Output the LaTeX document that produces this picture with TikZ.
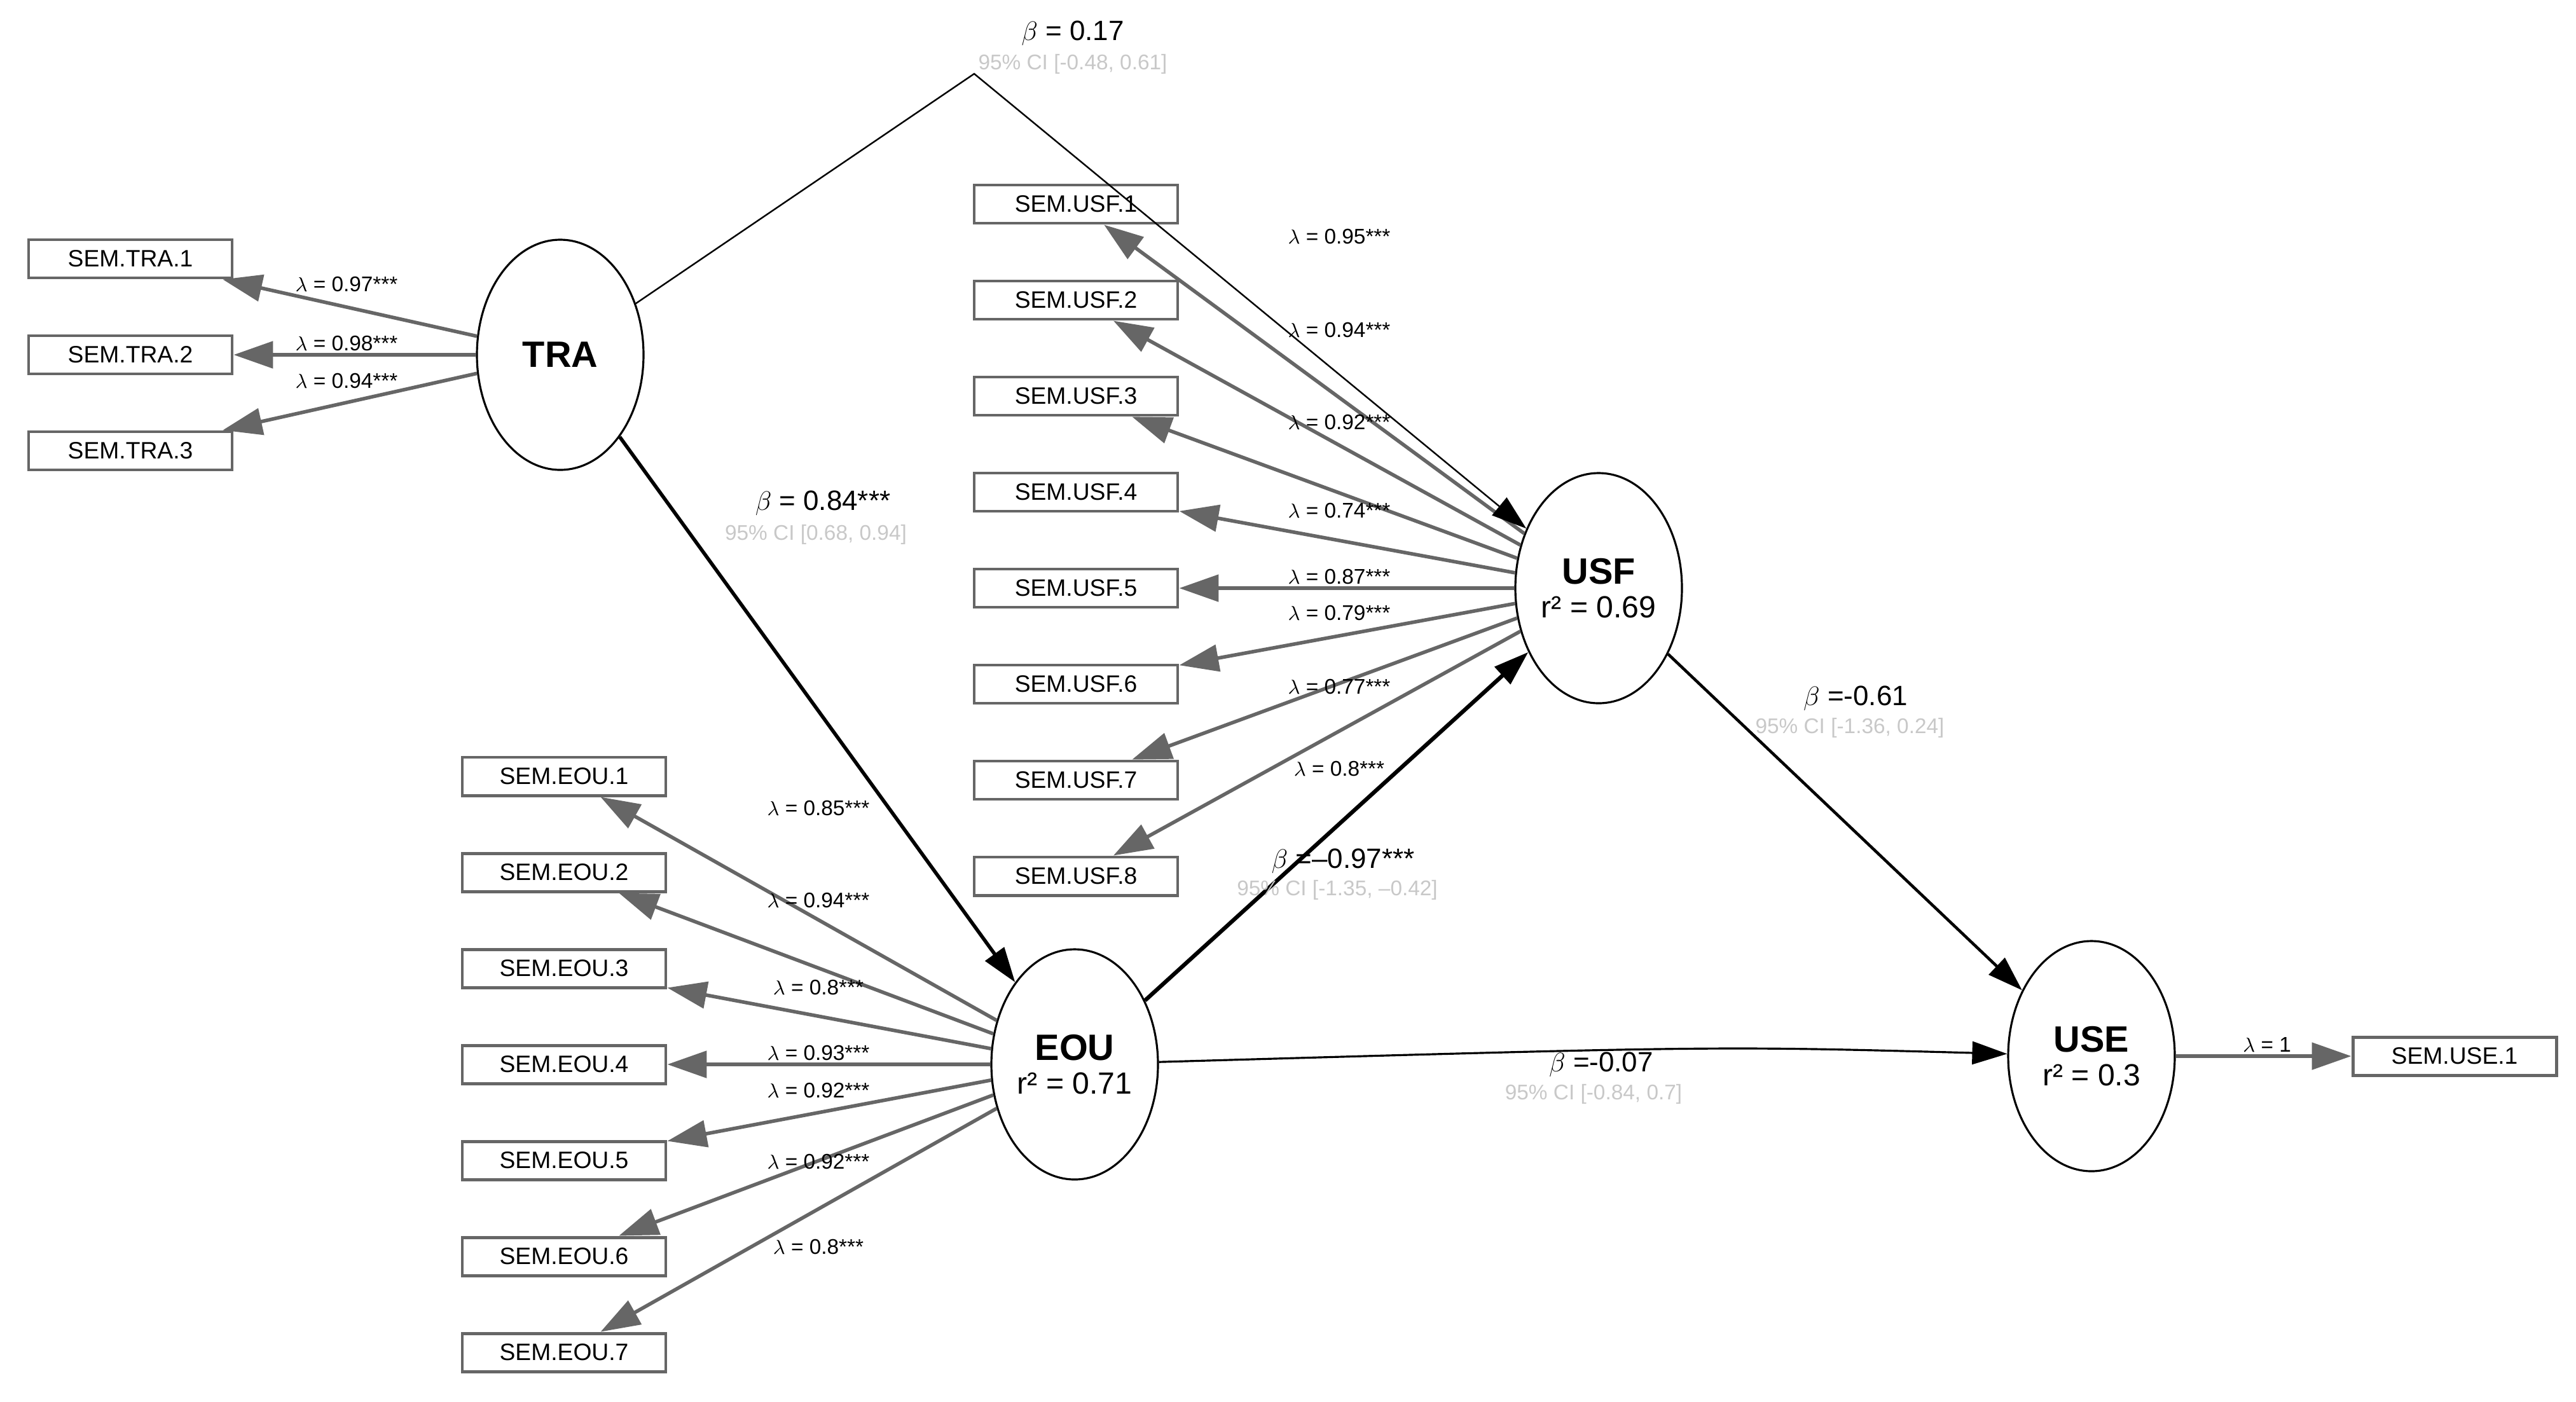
\documentclass[tikz,border=0pt]{standalone}
\usepackage{fontspec}
\setmainfont{Liberation Sans}
\usetikzlibrary{arrows.meta,positioning,shapes.geometric}
\definecolor{loadgray}{HTML}{666666}
\definecolor{cigray}{HTML}{C8C8C8}
\newcommand{\latname}{\fontsize{16.4}{18}\selectfont\bfseries}

\begin{document}
\begin{tikzpicture}[node distance=1.51cm,on grid,
    latent/.style={draw,ellipse,line width=0.9pt,minimum width=2.62cm,minimum height=3.62cm,
      inner sep=0pt,align=center,font=\fontsize{13.7}{15}\selectfont},
    manifest/.style={draw=loadgray,rectangle,line width=1.4pt,minimum width=3.2cm,
      minimum height=0.6cm,inner sep=0pt,font=\fontsize{10.6}{12}\selectfont},
    load/.style={loadgray,line width=1.6pt,-{Triangle[length=0.62cm,width=0.42cm]}},
    reg/.style={black,-{Triangle[length=0.55cm,width=0.36cm]}},
    lam/.style={font=\fontsize{9.5}{11}\selectfont},
    coef/.style={font=\fontsize{12.5}{14}\selectfont},
    ci/.style={text=cigray,font=\fontsize{9.5}{11}\selectfont}]
   \useasboundingbox (0,0) rectangle (40.51,-22.04);

   % latent variables
   \node[latent] (TRA) at (8.81,-5.58) {\latname TRA};
   \node[latent] (USF) at (25.14,-9.25) {{\latname USF}\\r² = 0.69};
   \node[latent] (EOU) at (16.90,-16.74) {{\latname EOU}\\r² = 0.71};
   \node[latent] (USE) at (32.89,-16.61) {{\latname USE}\\r² = 0.3};

   % indicators
   \node[manifest] (tra2) [left=6.76cm of TRA] {SEM.TRA.2};
   \node[manifest] (tra1) [above=of tra2] {SEM.TRA.1};
   \node[manifest] (tra3) [below=of tra2] {SEM.TRA.3};

   \node[manifest] (usf5) [left=8.22cm of USF] {SEM.USF.5};
   \node[manifest] (usf4) [above=of usf5] {SEM.USF.4};
   \node[manifest] (usf3) [above=of usf4] {SEM.USF.3};
   \node[manifest] (usf2) [above=of usf3] {SEM.USF.2};
   \node[manifest] (usf1) [above=of usf2] {SEM.USF.1};
   \node[manifest] (usf6) [below=of usf5] {SEM.USF.6};
   \node[manifest] (usf7) [below=of usf6] {SEM.USF.7};
   \node[manifest] (usf8) [below=of usf7] {SEM.USF.8};

   \node[manifest] (eou4) [left=8.03cm of EOU] {SEM.EOU.4};
   \node[manifest] (eou3) [above=of eou4] {SEM.EOU.3};
   \node[manifest] (eou2) [above=of eou3] {SEM.EOU.2};
   \node[manifest] (eou1) [above=of eou2] {SEM.EOU.1};
   \node[manifest] (eou5) [below=of eou4] {SEM.EOU.5};
   \node[manifest] (eou6) [below=of eou5] {SEM.EOU.6};
   \node[manifest] (eou7) [below=of eou6] {SEM.EOU.7};

   \node[manifest] (use1) [right=5.71cm of USE] {SEM.USE.1};

   % loadings
   \path[load]
    (TRA) edge (tra1)
          edge (tra2)
          edge (tra3)
    (USF) edge (usf1)
          edge (usf2)
          edge (usf3)
          edge (usf4)
          edge (usf5)
          edge (usf6)
          edge (usf7)
          edge (usf8)
    (EOU) edge (eou1)
          edge (eou2)
          edge (eou3)
          edge (eou4)
          edge (eou5)
          edge (eou6)
          edge (eou7)
    (USE) edge (use1);

   \node[lam] (ltra1) at (5.45,-4.47) {$\lambda$ = 0.97***};
   \node[lam] (ltra2) at (5.45,-5.40) {$\lambda$ = 0.98***};
   \node[lam] (ltra3) at (5.45,-5.99) {$\lambda$ = 0.94***};

   \node[lam] (lusf1) at (21.06,-3.72) {$\lambda$ = 0.95***};
   \node[lam] (lusf2) at (21.06,-5.19) {$\lambda$ = 0.94***};
   \node[lam] (lusf3) at (21.06,-6.64) {$\lambda$ = 0.92***};
   \node[lam] (lusf4) at (21.06,-8.03) {$\lambda$ = 0.74***};
   \node[lam] (lusf5) at (21.06,-9.07) {$\lambda$ = 0.87***};
   \node[lam] (lusf6) at (21.06,-9.64) {$\lambda$ = 0.79***};
   \node[lam] (lusf7) at (21.06,-10.80) {$\lambda$ = 0.77***};
   \node[lam] (lusf8) at (21.06,-12.09) {$\lambda$ = 0.8***};

   \node[lam] (leou1) at (12.87,-12.71) {$\lambda$ = 0.85***};
   \node[lam] (leou2) at (12.87,-14.16) {$\lambda$ = 0.94***};
   \node[lam] (leou3) at (12.87,-15.53) {$\lambda$ = 0.8***};
   \node[lam] (leou4) at (12.87,-16.56) {$\lambda$ = 0.93***};
   \node[lam] (leou5) at (12.87,-17.15) {$\lambda$ = 0.92***};
   \node[lam] (leou6) at (12.87,-18.27) {$\lambda$ = 0.92***};
   \node[lam] (leou7) at (12.87,-19.61) {$\lambda$ = 0.8***};

   \node[lam] (luse1) at (35.65,-16.43) {$\lambda$ = 1};

   % structural paths
   \coordinate (apex) at (15.32,-1.16);
   \coordinate (eoubend) at (27,-16.45);
   \draw[reg,line width=0.7pt] (TRA) -- (apex) -- (USF);
   \draw[reg,line width=0.9pt] (EOU) .. controls (eoubend) .. (USE);
   \path[reg]
    (TRA) edge[line width=1.6pt] (EOU)
    (EOU) edge[line width=1.8pt] (USF)
    (USF) edge[line width=1.3pt] (USE);

   \node[coef] (btrausf) at (16.87,-0.52) {$\beta$ = 0.17};
   \node[ci] (citrausf) at (16.87,-1.01) {95\% CI [-0.48, 0.61]};
   \node[coef] (btraeou) at (12.94,-7.91) {$\beta$ = 0.84***};
   \node[ci] (citraeou) at (12.83,-8.41) {95\% CI [0.68, 0.94]};
   \node[coef] (busfuse) at (29.18,-10.98) {$\beta$ =-0.61};
   \node[ci] (ciusfuse) at (29.09,-11.45) {95\% CI [-1.36, 0.24]};
   \node[coef] (beouusf) at (21.12,-13.54) {$\beta$ =--0.97***};
   \node[ci] (cieouusf) at (21.03,-14.00) {95\% CI [-1.35, --0.42]};
   \node[coef] (beouuse) at (25.18,-16.74) {$\beta$ =-0.07};
   \node[ci] (cieouuse) at (25.06,-17.21) {95\% CI [-0.84, 0.7]};
\end{tikzpicture}
\end{document}
